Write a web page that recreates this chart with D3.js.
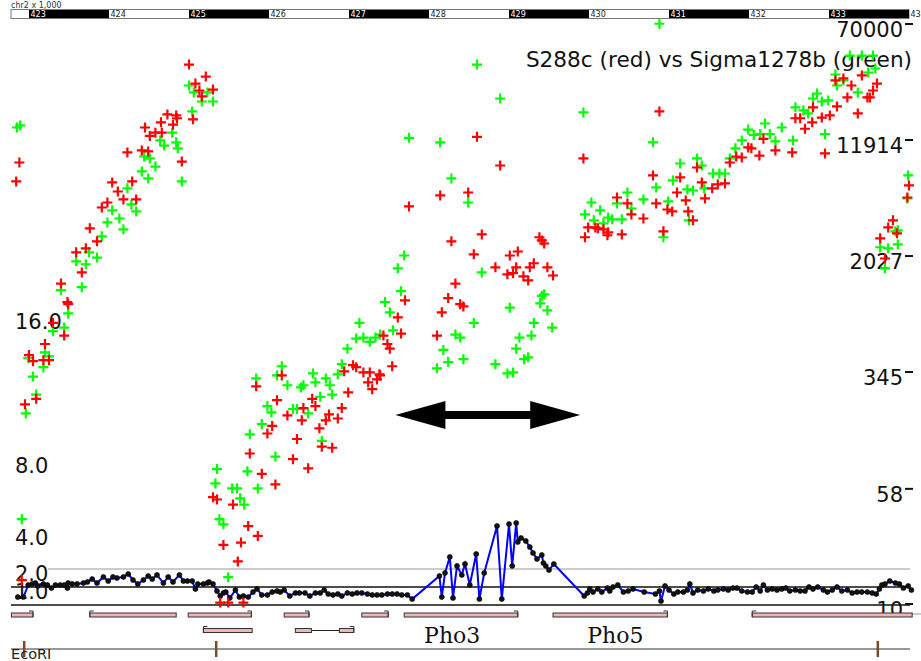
<!DOCTYPE html>
<html><head><meta charset="utf-8">
<script src="https://cdn.jsdelivr.net/npm/d3@7/dist/d3.min.js"></script>
<style>html,body{margin:0;padding:0;background:#fff;}svg{display:block;}</style>
</head><body>
<script>
// ---------- DATA ----------
const rulerTicks = [423,424,425,426,427,428,429,430,431,432,433,434];
const ratioTicks = [16,8,4,2,1];
const ratioTickLabels = ["16.0","8.0","4.0","2.0","1.0"];
const intensityTicks = [10,58,345,2027,11914,70000];
const title = "S288c (red) vs Sigma1278b (green)";

const redPos = [
422.84,422.88,422.91,422.95,423.09,423.0,423.05,423.18,423.25,423.2,
423.3,423.44,423.48,423.49,423.4,423.66,423.59,423.71,423.85,423.76,
423.91,423.98,424.18,424.34,424.11,424.04,424.29,424.23,424.41,424.49,
424.91,424.45,424.51,424.58,424.66,424.65,424.8,424.73,424.84,424.85,
425.05,425.0,425.21,425.08,425.13,425.3,425.16,425.3,425.35,425.55,
425.74,425.86,425.43,425.65,425.61,425.39,425.49,425.68,425.76,425.91,
426.08,426.3,426.49,426.35,426.66,426.79,425.98,426.04,426.63,426.23,
426.41,426.71,426.86,426.75,426.91,426.43,426.58,426.54,426.1,425.84,
426.16,426.99,427.29,427.24,427.35,426.94,427.18,427.26,427.38,427.05,
427.09,427.54,427.39,427.43,427.48,427.51,427.61,427.65,427.7,427.75,
428.1,428.16,428.24,428.33,428.39,428.43,428.14,428.28,428.49,428.56,
428.6,428.66,428.83,428.89,428.98,429.01,429.05,429.09,429.11,429.18,
429.24,429.26,429.31,429.38,429.41,429.44,429.48,429.55,429.93,430.88,
430.8,430.84,430.93,429.95,429.99,430.08,430.11,430.18,430.24,430.23,
430.41,430.35,430.48,430.53,430.68,430.98,431.04,431.1,431.14,431.21,
431.24,431.3,431.35,431.41,431.45,431.54,431.61,431.7,431.76,431.84,
431.91,431.99,432.03,432.13,432.18,432.33,432.54,432.58,432.64,432.7,
432.79,432.8,432.91,433.01,433.1,433.23,433.28,433.08,433.18,433.36,
433.41,433.48,433.51,433.55,433.6,432.95,434.0,433.98,433.8,433.74,
433.85,433.64,433.7];
const redVal = [
6940,9260,15.8,231,251,490,446,453,453,580,
800,660,1100,1065,1460,1730,2350,2500,2780,3390,
4660,5030,5270,5270,5950,6830,6940,10800,11130,10960,
9400,15800,13900,14600,14600,17100,16500,19300,19000,18200,
17900,41300,34400,30900,27800,28200,25400,56,54,50,
36,31,27,28,21,11.2,11.2,11.2,109,80,
68,100,87,136,121,119,148,166,160,195,
181,181,186,198,218,218,225,251,246,304,
359,277,291,323,338,382,376,376,365,420,
407,413,359,660,580,540,870,680,1130,4740,
660,940,1170,1460,1065,1030,5600,2780,5860,2280,
13700,3090,1870,8850,1680,2240,1710,1870,2380,1630,
1530,1870,1990,2960,2820,2690,1870,1650,9850,20200,
7600,4960,3240,2960,3440,3440,3390,3340,3190,3050,
3090,5430,4960,4190,3940,4520,4390,5860,7370,5190,
4390,3830,8580,6830,5350,6240,6630,6730,9260,10150,
10000,11650,11500,10300,13300,11130,10800,18200,18200,15500,
17100,21500,18400,19000,21800,25000,30000,32400,33400,19600,
35000,25000,25000,27800,30900,10630,6530,5430,3830,3440,
3140,2910,2140];

const greenPos = [
422.85,422.89,422.91,422.96,423.09,423.05,423.18,422.99,423.25,423.2,
423.3,423.44,423.49,423.4,423.66,423.59,423.71,423.85,423.75,423.91,
423.98,424.18,424.13,424.04,424.34,424.28,424.23,424.41,424.49,424.91,
424.58,424.51,424.44,424.64,424.69,424.84,424.86,424.79,425.04,425.0,
425.06,425.23,425.16,425.3,425.49,425.38,425.43,425.64,425.69,425.54,
425.6,425.86,425.33,425.35,425.73,426.08,425.76,425.91,426.66,425.98,
426.03,426.3,426.35,426.49,426.64,426.79,425.84,426.23,426.43,426.4,
426.1,426.58,426.55,426.71,426.76,426.86,426.16,426.91,427.39,427.45,
427.51,427.55,427.65,427.61,427.69,427.75,428.14,428.28,428.49,428.6,
428.89,428.66,428.56,428.33,428.39,428.18,428.1,428.24,428.43,428.83,
428.98,429.05,429.01,429.44,429.41,429.39,429.48,429.31,429.54,429.28,
429.13,429.09,429.19,429.24,427.09,427.18,427.26,427.13,426.98,427.33,
430.88,429.93,430.8,430.03,429.95,430.14,430.06,430.24,430.18,430.29,
430.41,430.35,430.48,430.53,430.68,430.84,430.99,430.93,431.05,431.14,
431.23,431.3,431.35,431.41,431.44,431.25,431.55,431.63,431.7,431.76,
431.83,431.91,431.99,432.06,432.14,432.2,432.26,432.33,432.41,432.55,
432.58,432.68,432.74,432.8,432.85,432.91,432.99,432.95,433.08,433.1,
433.36,433.58,433.49,433.55,433.41,433.26,433.18,433.99,433.98,433.86,
433.83,433.86,433.74,433.64,433.7];
const greenVal = [
15800,16300,40,201,268,353,407,467,480,510,
705,745,925,1320,1380,2050,1960,2170,2350,3000,
3710,3340,3940,4460,4390,4880,6240,8080,7260,6940,
8700,9850,10150,12970,12000,12600,11500,14600,20200,30000,
27000,27000,23500,23500,16.5,40,37,55,50,64,
64,64,69,86,83,104,146,171,132,225,
204,215,215,201,259,268,343,309,309,299,
359,323,370,343,309,365,413,426,670,1100,
940,715,1300,1840,2240,13500,12600,7260,5030,41300,
24600,1730,800,670,640,530,400,440,460,426,
370,376,1010,1240,1210,1080,970,800,745,660,
640,540,460,473,630,640,600,800,540,640,
77000,19900,12600,5030,4190,4460,3830,4000,3660,3890,
3890,4960,5860,4590,5270,6330,5110,2960,7050,9120,
6140,6040,9850,8850,6240,3830,7830,7830,7830,9850,
11500,12970,15300,14100,14300,16800,14300,12800,15800,12970,
21500,20500,19600,24600,26550,23500,23900,14300,35500,30000,
27000,38900,36600,47400,47400,47400,32400,7600,5350,3290,
3240,2650,2500,2540,1840];

const ratioPos = [
422.86,422.93,422.99,423.04,423.08,423.11,423.18,423.23,423.28,423.33,
423.39,423.44,423.48,423.49,423.54,423.6,423.68,423.73,423.79,423.85,
423.93,423.99,424.05,424.1,424.18,424.24,424.3,424.36,424.43,424.49,
424.54,424.6,424.68,424.74,424.8,424.88,424.93,424.98,425.04,425.08,
425.11,425.18,425.23,425.25,425.3,425.35,425.39,425.43,425.46,425.51,
425.58,425.63,425.68,425.74,425.8,425.85,425.91,425.98,426.04,426.1,
426.14,426.19,426.26,426.33,426.38,426.45,426.51,426.58,426.64,426.69,
426.74,426.8,426.86,426.91,426.98,427.04,427.1,427.16,427.23,427.29,
427.35,427.41,427.48,427.54,427.6,427.66,427.73,427.79,428.13,428.16,
428.2,428.26,428.3,428.35,428.41,428.45,428.51,428.59,428.63,428.69,
428.85,428.91,429.0,429.04,429.09,429.11,429.15,429.21,429.26,429.3,
429.35,429.41,429.43,429.46,429.5,429.56,429.94,429.98,430.01,430.05,
430.11,430.16,430.23,430.26,430.3,430.36,430.43,430.49,430.55,430.69,
430.83,430.88,430.9,430.95,431.0,431.06,431.11,431.18,431.23,431.26,
431.3,431.36,431.43,431.49,431.56,431.61,431.68,431.74,431.8,431.85,
431.91,431.98,432.04,432.09,432.14,432.18,432.23,432.29,432.35,432.41,
432.46,432.51,432.58,432.64,432.7,432.75,432.8,432.86,432.93,432.98,
433.04,433.1,433.16,433.23,433.29,433.35,433.41,433.48,433.54,433.59,
433.63,433.66,433.7,433.76,433.83,433.88,433.93,433.99,434.03];
const ratioVal = [
0.44,0.44,1.11,1.17,1.22,1.06,1.17,1.11,0.94,1.11,
1.11,1.11,0.94,1.22,1.17,1.17,1.22,1.28,1.44,1.22,
1.56,1.33,1.56,1.5,1.56,1.72,1.39,1.17,1.39,1.61,
1.44,1.67,1.22,1.56,1.28,1.67,1.33,1.33,1.33,0.89,
1.17,1.17,1.22,1.28,1.17,0.78,0.5,0.67,0.72,0.39,
0.83,0.44,0.5,0.44,0.72,0.89,0.56,0.56,0.72,0.78,
0.72,0.83,0.5,0.67,0.67,0.67,0.5,0.67,0.67,0.83,
0.61,0.56,0.61,0.5,0.67,0.61,0.67,0.67,0.61,0.56,
0.56,0.56,0.61,0.61,0.61,0.56,0.56,0.33,1.61,0.44,
1.78,2.67,0.39,2.17,1.67,2.28,1.11,2.83,0.33,1.78,
4.39,0.33,4.5,2.17,4.56,3.5,3.72,3.56,3.22,2.89,
2.56,2.78,2.33,2.17,1.94,2.28,0.5,0.67,0.89,0.72,
0.89,0.72,0.94,0.78,1.0,1.11,0.72,0.78,0.89,0.72,
0.61,0.78,0.22,1.06,0.83,0.61,0.72,0.72,0.83,1.17,
0.67,0.83,0.78,0.89,0.78,0.83,0.89,0.83,0.94,0.94,
0.78,0.72,0.72,1.0,0.78,1.11,0.83,0.89,0.83,0.89,
0.94,0.78,0.83,0.78,0.78,1.0,0.89,1.0,0.83,0.72,
0.83,1.0,0.78,0.83,0.67,0.72,0.72,0.72,0.67,0.61,
0.89,1.11,1.17,1.33,1.22,1.17,0.94,1.06,0.83];

// genes (kb)
const geneStart  = [422.78,423.76,424.99,426.19,427.16,427.69,429.55,432.04,425.18,426.33];
const geneEnd    = [423.05,424.84,425.78,426.5,427.49,429.11,430.98,434.04,425.79,427.06];
const geneRow    = [0,0,0,0,0,0,0,0,1,1];
const geneStrand = [1,-1,1,1,1,1,1,-1,-1,1];
const intronGene = 9, intronStart = 426.53, intronEnd = 426.88;
const geneLabels = ["Pho3","Pho5"];
const geneLabelPos = [428.29,430.33];
const ecoRISites = [422.94,425.34,433.61];
const arrowSpan = [427.58,429.89];

// ---------- DRAW ----------
const W = 921, H = 661;
const svg = d3.select("body").append("svg").attr("width",W).attr("height",H)
  .style("font-family","'DejaVu Sans', sans-serif");
svg.append("rect").attr("width",W).attr("height",H).attr("fill","#fff");

const x = d3.scaleLinear().domain([423,434]).range([29,909]);
const yI = d3.scaleLog().domain([10,70000]).range([610,30]);
const yR = d3.scaleLinear().domain([0,16]).range([605,317]);

// ruler
svg.append("text").attr("x",11).attr("y",7.5).attr("font-size",8).attr("fill","#333").text("chr2 x 1,000");
svg.append("rect").attr("x",11).attr("y",9.5).attr("width",x(434)-11).attr("height",9)
  .attr("fill","#fff").attr("stroke","#777").attr("stroke-width",1);
const segs = rulerTicks.slice(0,-1);
svg.selectAll("rect.seg").data(segs.filter((d,i)=>i%2===0)).enter().append("rect")
  .attr("x",d=>x(d)).attr("y",10).attr("width",d=>x(d+1)-x(d)).attr("height",8).attr("fill","#000");
svg.selectAll("text.rl").data(rulerTicks).enter().append("text")
  .attr("x",d=>x(d)+1.5).attr("y",17).attr("font-size",8)
  .attr("fill",(d,i)=> (i%2===0 && i<rulerTicks.length-1) ? "#fff" : "#222").text(d=>d);

// reference lines for ratio
svg.append("line").attr("x1",48).attr("x2",910).attr("y1",yR(2)).attr("y2",yR(2)).attr("stroke","#999").attr("stroke-width",1.2);
svg.append("line").attr("x1",11).attr("x2",910).attr("y1",yR(1)).attr("y2",yR(1)).attr("stroke","#111").attr("stroke-width",1.3);
svg.append("line").attr("x1",11).attr("x2",910).attr("y1",yR(0)).attr("y2",yR(0)).attr("stroke","#111").attr("stroke-width",1.3);
svg.append("line").attr("x1",905).attr("x2",921).attr("y1",614).attr("y2",614).attr("stroke","#999").attr("stroke-width",1);

// left axis labels (ratio)
svg.selectAll("text.lt").data(ratioTicks).enter().append("text")
  .attr("x",15).attr("y",d=>yR(d)+4.5).attr("dominant-baseline","central")
  .attr("font-size",21).attr("fill","#111").text((d,i)=>ratioTickLabels[i]);

// right axis labels (intensity)
svg.selectAll("text.rt").data(intensityTicks).enter().append("text")
  .attr("x",903).attr("y",d=>yI(d)).attr("dominant-baseline","central").attr("text-anchor","end")
  .attr("font-size",21).attr("fill","#111").text(d=>d);
svg.selectAll("line.rt").data(intensityTicks).enter().append("line")
  .attr("x1",905).attr("x2",913).attr("y1",d=>yI(d)-6).attr("y2",d=>yI(d)-6)
  .attr("stroke","#111").attr("stroke-width",2);

// title
svg.append("text").attr("x",912).attr("y",67).attr("text-anchor","end")
  .attr("font-size",21.6).attr("fill","#111").text(title);

// genes
const rowTop = [613,628.5], gh = 4;
geneStart.forEach((s,i)=>{
  const top = rowTop[geneRow[i]];
  const g = svg.append("g");
  if(i===intronGene){
    g.append("line").attr("x1",x(intronStart)).attr("x2",x(intronEnd)).attr("y1",top+gh/2).attr("y2",top+gh/2)
      .attr("stroke","#222").attr("stroke-width",1);
    [[s,intronStart],[intronEnd,geneEnd[i]]].forEach(e=>{
      g.append("rect").attr("x",x(e[0])).attr("y",top).attr("width",x(e[1])-x(e[0])).attr("height",gh)
        .attr("fill","#f4b4b4").attr("stroke","#333").attr("stroke-width",1);
    });
  } else {
    g.append("rect").attr("x",x(s)).attr("y",top).attr("width",x(geneEnd[i])-x(s)).attr("height",gh)
      .attr("fill","#f4b4b4").attr("stroke","#333").attr("stroke-width",1);
  }
  const ex = geneStrand[i] > 0 ? x(geneEnd[i]) : x(s);
  const dir = geneStrand[i] > 0 ? -1 : 1;
  g.append("path").attr("d",`M${ex},${top+gh} V${top-2} H${ex+dir*4}`)
    .attr("fill","none").attr("stroke","#333").attr("stroke-width",1);
});
svg.selectAll("text.gl").data(geneLabels).enter().append("text")
  .attr("x",(d,i)=>x(geneLabelPos[i])).attr("y",643).attr("text-anchor","middle")
  .attr("font-family","'DejaVu Serif', serif").attr("font-size",22).attr("fill","#111").text(d=>d);

// EcoRI track
svg.append("line").attr("x1",11).attr("x2",910).attr("y1",649).attr("y2",649).attr("stroke","#333").attr("stroke-width",1.2);
svg.selectAll("line.eco").data(ecoRISites).enter().append("line")
  .attr("x1",d=>x(d)).attr("x2",d=>x(d)).attr("y1",641).attr("y2",657)
  .attr("stroke","#7a4a2a").attr("stroke-width",2.5);
svg.append("text").attr("x",11).attr("y",659).attr("font-size",14.5).attr("fill","#222").text("EcoRI");

// ratio line
const rData = ratioPos.map((p,i)=>[p,ratioVal[i]]);
svg.append("path").datum(rData)
  .attr("d",d3.line().x(d=>x(d[0])).y(d=>yR(d[1])))
  .attr("fill","none").attr("stroke","#0000ff").attr("stroke-width",2);
svg.selectAll("circle.r").data(rData).enter().append("circle")
  .attr("cx",d=>x(d[0])).attr("cy",d=>yR(d[1])).attr("r",2.5)
  .attr("fill","#111").attr("stroke","#000").attr("stroke-width",0.6);

// double arrow
const ax0 = x(arrowSpan[0]), ax1 = x(arrowSpan[1]), ay = 415, hl = 50, hh = 14, sh = 4;
svg.append("path").attr("d",
  `M${ax0},${ay} L${ax0+hl},${ay-hh} L${ax0+hl},${ay-sh} L${ax1-hl},${ay-sh} L${ax1-hl},${ay-hh} L${ax1},${ay} L${ax1-hl},${ay+hh} L${ax1-hl},${ay+sh} L${ax0+hl},${ay+sh} L${ax0+hl},${ay+hh} Z`)
  .attr("fill","#000");

// scatter crosses
const cross = "M-5,0H5M0,-5V5";
function drawCross(pos, val, color){
  const d = pos.map((p,i)=>[p,val[i]]).filter(v=>v[1]!==undefined);
  svg.append("g").selectAll("path").data(d).enter().append("path")
    .attr("d",cross).attr("transform",v=>`translate(${x(v[0])},${yI(v[1])})`)
    .attr("stroke",color).attr("stroke-width",2.2).attr("fill","none");
}
drawCross(greenPos, greenVal, "#00ff00");
drawCross(redPos, redVal, "#ff0000");
</script>
</body></html>
